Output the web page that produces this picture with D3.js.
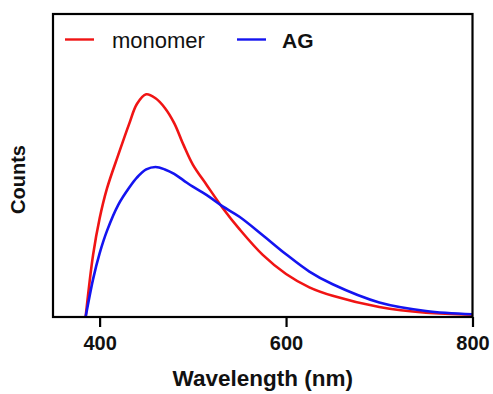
<!DOCTYPE html>
<html><head><meta charset="utf-8">
<script src="https://cdn.jsdelivr.net/npm/d3@7"></script>
<style>body{margin:0;background:#fff}</style>
</head><body>
<svg id="c" width="493" height="394"></svg>
<script>
const wavelength = [385, 393, 400, 408, 420, 432, 440, 450, 460, 470, 480, 490, 500, 515, 532, 550, 575, 600, 625, 650, 700, 750, 800];
const monomer   = [0, 20.5, 32.5, 42.5, 53.5, 64, 70.3, 73.5, 72.2, 69, 64, 56.8, 50.3, 43.5, 36, 29, 20.5, 14.2, 9.8, 7, 3.3, 1.4, 0.8];
const ag        = [0, 12.5, 21, 28.5, 37, 42.8, 46, 48.7, 49.5, 48.7, 47.2, 45.1, 43, 40.2, 36.5, 33.1, 27, 20.7, 15, 10.8, 4.8, 2, 0.9];
const xTicks = [400, 600, 800];
const seriesNames = ["monomer", "AG"];
const seriesColors = ["#f01414", "#1414f0"];

const svg = d3.select("#c");
const L = 53, R = 472.5, T = 14, B = 317;
const x = d3.scaleLinear().domain([350, 800]).range([L, R]);
const y = d3.scaleLinear().domain([0, 100]).range([B, T]);

const line = d3.line().x(d => x(d[0])).y(d => y(d[1])).curve(d3.curveCatmullRom.alpha(0.5));
const series = [monomer, ag];
series.forEach((vals, i) => {
  svg.append("path")
    .datum(wavelength.map((w, j) => [w, vals[j]]))
    .attr("d", line).attr("fill", "none")
    .attr("stroke", seriesColors[i]).attr("stroke-width", 2.6);
});

// frame
svg.append("rect").attr("x", L).attr("y", T).attr("width", R - L).attr("height", B - T)
  .attr("fill", "none").attr("stroke", "#000").attr("stroke-width", 2.2);

const xAxis = svg.append("g").attr("transform", `translate(0,${B})`)
  .call(d3.axisBottom(x).tickValues(xTicks).tickSize(10).tickPadding(9).tickFormat(d3.format("d")));
xAxis.select(".domain").remove();
xAxis.selectAll("line").attr("stroke", "#000").attr("stroke-width", 2.2);
xAxis.selectAll("text").attr("font-family", "Liberation Sans, Arial, sans-serif")
  .attr("font-size", 20).attr("font-weight", "bold").attr("fill", "#111");

svg.append("text").attr("x", (L + R) / 2).attr("y", 386).attr("text-anchor", "middle")
  .attr("font-family", "Liberation Sans, Arial, sans-serif").attr("font-size", 22.5)
  .attr("font-weight", "bold").attr("fill", "#111").text("Wavelength (nm)");

svg.append("text").attr("transform", `translate(25,${(T + B) / 2 + 14}) rotate(-90)`)
  .attr("text-anchor", "middle")
  .attr("font-family", "Liberation Sans, Arial, sans-serif").attr("font-size", 20)
  .attr("font-weight", "bold").attr("fill", "#111").text("Counts");

// legend
const legX = [65, 237], textX = [112, 282];
seriesNames.forEach((n, i) => {
  svg.append("line").attr("x1", legX[i]).attr("x2", legX[i] + 29).attr("y1", 39.5).attr("y2", 39.5)
    .attr("stroke", seriesColors[i]).attr("stroke-width", 2.4);
  svg.append("text").attr("x", textX[i]).attr("y", 48.3)
    .attr("font-family", "Liberation Sans, Arial, sans-serif")
    .attr("font-size", i === 0 ? 22 : 21).attr("font-weight", i === 0 ? "normal" : "bold")
    .attr("fill", "#111").text(n);
});
</script>
</body></html>
